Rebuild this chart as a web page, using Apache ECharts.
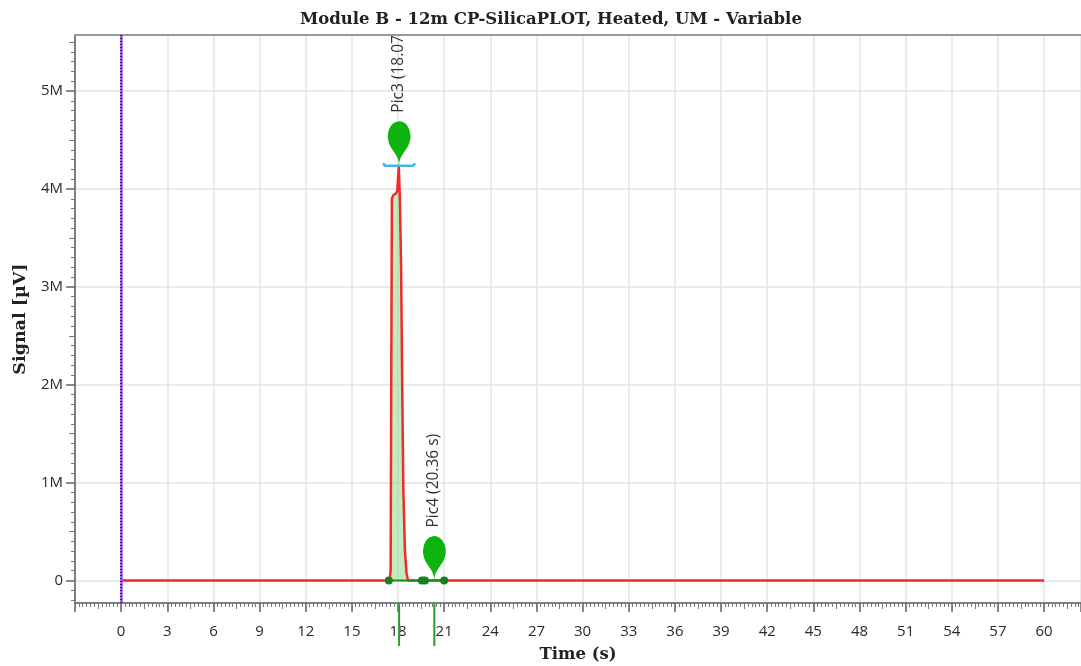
<!DOCTYPE html>
<html>
<head>
<meta charset="utf-8">
<script src="https://cdn.jsdelivr.net/npm/echarts@6/dist/echarts.min.js"></script>
<style>
html,body{margin:0;padding:0;background:#fff;}
#chart{width:1081px;height:666px;}
</style>
</head>
<body>
<div id="chart"></div>
<script>
// ---- data ----
const chartTitle = 'Module B - 12m CP-SilicaPLOT, Heated, UM - Variable';
const xName = 'Time (s)';
const yName = 'Signal [µV]';
const timeS = [0, 17.45, 17.52, 17.56, 17.6, 17.7, 17.85, 17.95, 18.0, 18.05, 18.08, 18.12, 18.2, 18.27, 18.35, 18.45, 18.55, 18.65, 60];
const signal = [0, 0, 100000, 2000000, 3900000, 3940000, 3950000, 3980000, 4100000, 4230000, 4220000, 3900000, 3200000, 2000000, 900000, 300000, 80000, 0, 0];
const fillRange = [17.4, 19.55];
const baselineTimes = [17.4, 19.55, 19.75, 21.0];
const baselineSignals = [0, 0, 0, 0];
const bracketTimes = [17.03, 17.15, 18.99, 19.11];
const bracketSignals = [4262000, 4238000, 4238000, 4262000];
const peakTimes = [18.07, 20.36];
const peakSignals = [4238000, 0];
const peakNames = ['Pic3 (18.07 s)', 'Pic4 (20.36 s)'];
const markerTime = 0;
const xRange = [-3, 62.4];
const xTickStep = 3;
const yRange = [-230000, 5573000];
const yTickValues = [0, 1000000, 2000000, 3000000, 4000000, 5000000];
const yTickLabels = ['0', '1M', '2M', '3M', '4M', '5M'];
const yMinorStep = 100000;
const yMediumStep = 500000;

// ---- derived ----
const lineData = timeS.map((t, i) => [t, signal[i]]);
const fillData = lineData.filter(p => p[0] >= fillRange[0] && p[0] <= fillRange[1]);
const baselineData = baselineTimes.map((t, i) => [t, baselineSignals[i]]);
const bracketData = bracketTimes.map((t, i) => [t, bracketSignals[i]]);
const peakData = peakTimes.map((t, i) => [t, peakSignals[i]]);
const peakLabelData = peakTimes.map((t, i) => [t, peakSignals[i], peakNames[i]]);

const yMinorVals = [], yMediumVals = [];
for (let k = Math.ceil(yRange[0] / yMinorStep); k * yMinorStep <= yRange[1]; k++) {
  const v = k * yMinorStep;
  if (Math.abs(v % yMediumStep) > 1) yMinorVals.push(v);
  else if (Math.abs(v % 1000000) > 1) yMediumVals.push(v);
}

const axisGrey = '#7f7f7f';
const labelFont = 'Open Sans, Noto Sans, sans-serif';
const serif = 'DejaVu Serif, serif';

const chart = echarts.init(document.getElementById('chart'), null, {renderer: 'canvas'});
const option = {
  animation: false,
  backgroundColor: '#ffffff',
  title: {
    text: chartTitle, left: 295, top: 6,
    textStyle: {fontFamily: serif, fontWeight: 'bold', fontSize: 16.5, color: '#222'}
  },
  grid: {left: 75, right: 0, top: 35, bottom: 63, containLabel: false, outerBoundsMode: 'none'},
  xAxis: [
    {
      type: 'value', min: xRange[0], max: xRange[1], interval: xTickStep,
      position: 'bottom',
      name: xName, nameLocation: 'middle', nameGap: 43,
      nameTextStyle: {fontFamily: serif, fontWeight: 'bold', fontSize: 16.5, color: '#222'},
      axisLine: {show: true, onZero: false, lineStyle: {color: axisGrey, width: 2}},
      axisTick: {show: true, inside: false, length: 9, lineStyle: {color: '#666', width: 1.5}},
      minorTick: {show: true, splitNumber: 12, length: 4, lineStyle: {color: '#777', width: 1}},
      axisLabel: {
        show: true, margin: 21, fontFamily: labelFont, fontSize: 15, color: '#2a2a2a',
        showMaxLabel: false,
        formatter: v => (v < 0 || v > 60.001) ? '' : String(Math.round(v))
      },
      splitLine: {show: true, lineStyle: {color: '#e4e4e4', width: 1.5}}
    },
    {
      type: 'value', min: xRange[0], max: xRange[1], interval: xTickStep / 2,
      position: 'bottom',
      axisLine: {show: false, onZero: false},
      axisTick: {show: true, length: 6, lineStyle: {color: '#777', width: 1}},
      axisLabel: {show: false}, splitLine: {show: false}
    },
    {
      type: 'value', min: xRange[0], max: xRange[1], position: 'top',
      axisLine: {show: true, onZero: false, lineStyle: {color: '#999', width: 2}},
      axisTick: {show: false}, axisLabel: {show: false}, splitLine: {show: false}
    }
  ],
  yAxis: [
    {
      type: 'value', min: yRange[0], max: yRange[1], position: 'left',
      name: yName, nameLocation: 'middle', nameGap: 46,
      nameTextStyle: {fontFamily: serif, fontWeight: 'bold', fontSize: 17.5, color: '#222'},
      axisLine: {show: true, onZero: false, lineStyle: {color: axisGrey, width: 2}},
      axisTick: {show: true, length: 9, customValues: yTickValues, lineStyle: {color: '#666', width: 1.5}},
      axisLabel: {
        show: true, margin: 12, fontFamily: labelFont, fontSize: 15, color: '#2a2a2a',
        customValues: yTickValues,
        formatter: v => {
          const i = yTickValues.findIndex(t => Math.abs(t - v) < 1);
          return i >= 0 ? yTickLabels[i] : '';
        }
      },
      splitLine: {show: true, lineStyle: {color: '#e4e4e4', width: 1.5}}
    },
    {
      type: 'value', min: yRange[0], max: yRange[1], position: 'left',
      axisLine: {show: false, onZero: false},
      axisTick: {show: true, length: 4, customValues: yMinorVals, lineStyle: {color: '#777', width: 1}},
      axisLabel: {show: false}, splitLine: {show: false}
    },
    {
      type: 'value', min: yRange[0], max: yRange[1], position: 'left',
      axisLine: {show: false, onZero: false},
      axisTick: {show: true, length: 6, customValues: yMediumVals, lineStyle: {color: '#777', width: 1}},
      axisLabel: {show: false}, splitLine: {show: false}
    }
  ],
  series: [
    {
      name: 'fill', type: 'line', data: fillData, showSymbol: false, symbol: 'none',
      lineStyle: {color: '#5cbc5c', width: 1},
      areaStyle: {color: 'rgba(150,220,140,0.8)'}, z: 2
    },
    {
      name: 'signal', type: 'line', data: lineData, showSymbol: false, symbol: 'none',
      lineStyle: {color: '#f22a2a', width: 2.5}, z: 3,
      markLine: {
        silent: true, symbol: 'none', label: {show: false},
        data: [
          {xAxis: markerTime, lineStyle: {color: '#9a55d6', width: 2.5, type: 'solid'}},
          {xAxis: markerTime, lineStyle: {color: '#3d1580', width: 2, type: [1, 2]}}
        ]
      }
    },
    {
      name: 'baseline', type: 'line', data: baselineData, symbol: 'circle', symbolSize: 8,
      showSymbol: true, lineStyle: {color: '#1f8a1f', width: 2},
      itemStyle: {color: '#1a7f1a'}, z: 4
    },
    {
      name: 'bracket', type: 'line', data: bracketData, symbol: 'none',
      lineStyle: {color: '#46b2ea', width: 2.5}, z: 5
    },
    {
      name: 'pins', type: 'scatter', data: peakData, symbol: 'pin', symbolSize: [38, 51],
      itemStyle: {color: '#0fb30f', opacity: 1}, z: 6
    },
    {
      name: 'peakLabels', type: 'custom', data: peakLabelData, clip: true, z: 7,
      renderItem: (params, api) => {
        const p = api.coord([api.value(0), api.value(1)]);
        return {
          type: 'text', x: p[0] - 1, y: p[1] - 53, rotation: Math.PI / 2,
          style: {
            text: peakLabelData[params.dataIndex][2], fill: '#333',
            font: '15.5px Open Sans, Noto Sans, sans-serif', align: 'left', verticalAlign: 'middle'
          }
        };
      }
    },
    {
      name: 'peakTicks', type: 'custom', data: peakData, clip: false, z: 7,
      renderItem: (params, api) => {
        const p = api.coord([api.value(0), yRange[0]]);
        return {
          type: 'line', shape: {x1: p[0], y1: p[1] + 1, x2: p[0], y2: p[1] + 43},
          style: {stroke: '#2e9a2e', lineWidth: 2}
        };
      }
    }
  ]
};
chart.setOption(option);
</script>
</body>
</html>
